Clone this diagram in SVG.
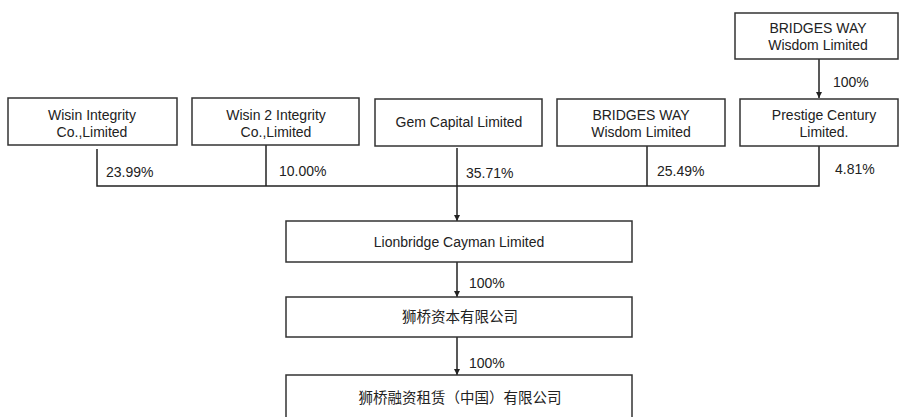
<svg xmlns="http://www.w3.org/2000/svg" width="899" height="417" viewBox="0 0 899 417">
<defs>
<marker id="arr" viewBox="0 0 10 10" refX="10" refY="5" markerWidth="4" markerHeight="5" orient="auto" markerUnits="strokeWidth">
<path d="M0,0 L10,5 L0,10 z" fill="#222"/>
</marker>
<style>
rect{fill:#fff;stroke:#333;stroke-width:1.5}
text{font-family:"Liberation Sans",Arial,sans-serif;font-size:14px;fill:#222;text-anchor:middle}
.cn{font-family:"Noto Sans CJK SC","Liberation Sans",sans-serif;font-size:14.5px}
.pct{text-anchor:start}
.ln{fill:none;stroke:#222;stroke-width:1.5}
</style>
</defs>
<rect x="0" y="0" width="899" height="417" style="fill:#fff;stroke:none"/>
<g id="connectors">
<path class="ln" d="M819,59 V98" marker-end="url(#arr)"/>
<path class="ln" d="M97,149 V186 H819 V146"/>
<path class="ln" d="M266,145 V186"/>
<path class="ln" d="M647,146 V186"/>
<path class="ln" d="M457,148 V221" marker-end="url(#arr)"/>
<path class="ln" d="M457,262 V297" marker-end="url(#arr)"/>
<path class="ln" d="M457,337 V375" marker-end="url(#arr)"/>
<text class="pct" x="833" y="87">100%</text>
<text class="pct" x="106" y="177">23.99%</text>
<text class="pct" x="279" y="176">10.00%</text>
<text class="pct" x="466" y="178">35.71%</text>
<text class="pct" x="657" y="176">25.49%</text>
<text class="pct" x="835" y="174">4.81%</text>
<text class="pct" x="469" y="288">100%</text>
<text class="pct" x="469" y="368">100%</text>
</g>
<g id="n-bridges-top">
<rect x="735" y="13" width="163" height="46"/>
<text x="818" y="33">BRIDGES WAY</text>
<text x="818" y="50">Wisdom Limited</text>
</g>
<g id="n-wisin">
<rect x="8" y="98" width="169" height="47"/>
<text x="92" y="120">Wisin Integrity</text>
<text x="92" y="137">Co.,Limited</text>
</g>
<g id="n-wisin2">
<rect x="192" y="98" width="167" height="47"/>
<text x="276" y="120">Wisin 2 Integrity</text>
<text x="276" y="137">Co.,Limited</text>
</g>
<g id="n-gem">
<rect x="375" y="99" width="167" height="47"/>
<text x="459" y="127">Gem Capital Limited</text>
</g>
<g id="n-bridges">
<rect x="557" y="99" width="168" height="47"/>
<text x="641" y="120">BRIDGES WAY</text>
<text x="641" y="137">Wisdom Limited</text>
</g>
<g id="n-prestige">
<rect x="740" y="99" width="158" height="47"/>
<text x="824" y="120">Prestige Century</text>
<text x="824" y="137">Limited.</text>
</g>
<g id="n-lionbridge">
<rect x="286" y="221" width="346" height="41"/>
<text x="459" y="247">Lionbridge Cayman Limited</text>
</g>
<g id="n-capital">
<rect x="286" y="297" width="346" height="40"/>
<text class="cn" x="460" y="322">狮桥资本有限公司</text>
</g>
<g id="n-leasing">
<rect x="286" y="375" width="346" height="50"/>
<text class="cn" x="460" y="403">狮桥融资租赁（中国）有限公司</text>
</g>
</svg>
